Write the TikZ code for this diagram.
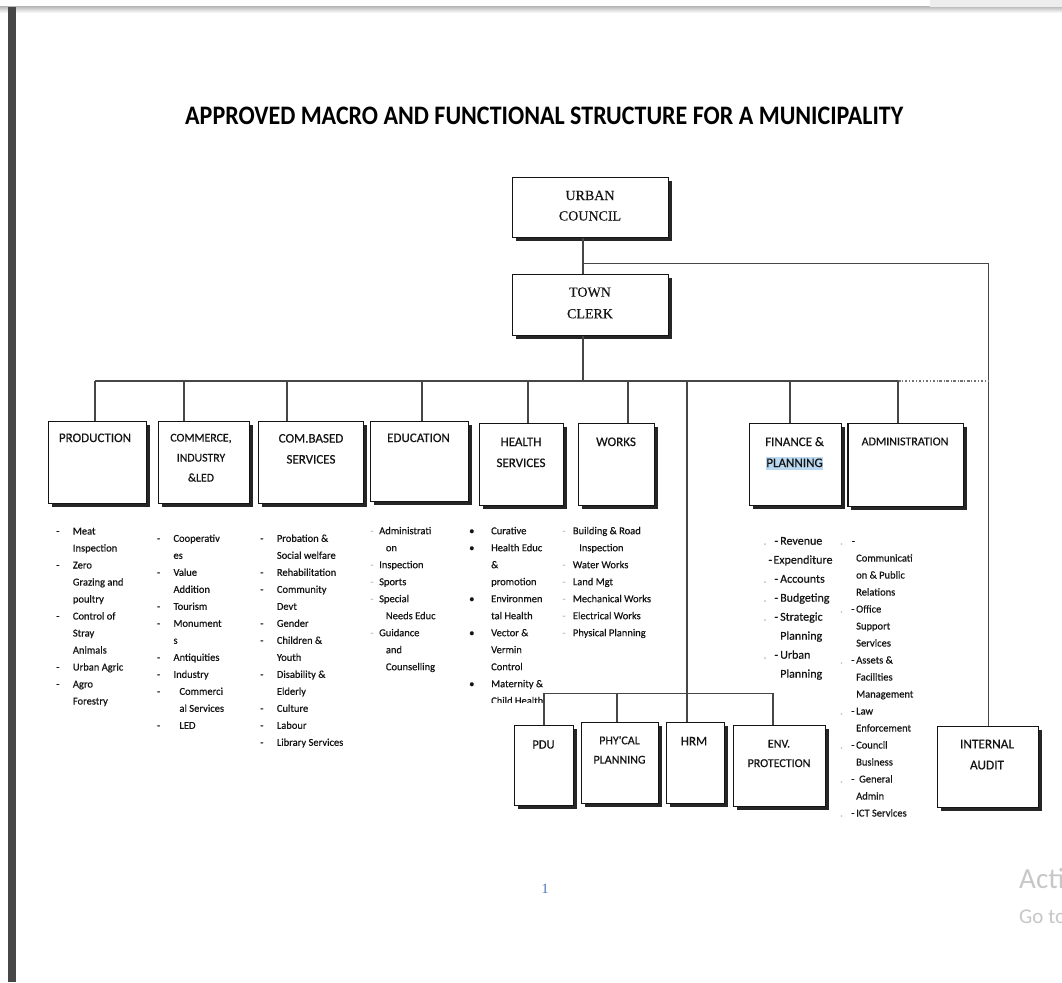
\documentclass[tikz,border=0pt]{standalone}
\usepackage{fontspec}
\usepackage{graphicx}
\setmainfont{Carlito}
\newfontfamily\heavy{Carlito}[FakeBold=0.45]
\newfontfamily\tnr{Liberation Serif}[FakeBold=0.35]
\newfontfamily\tnrplain{Liberation Serif}
\newfontfamily\wmfont{Carlito}
\usetikzlibrary{shadows}
\definecolor{ink}{RGB}{20,20,20}
\definecolor{wirec}{RGB}{70,70,70}
\definecolor{faint}{RGB}{175,185,200}
\definecolor{pgblue}{RGB}{70,110,190}
\definecolor{hl}{RGB}{186,216,240}
\newcommand{\fsz}[2]{\fontsize{#1pt}{#2pt}\selectfont}
\newcommand{\mlc}[1]{\begin{tabular}[t]{@{}c@{}}#1\end{tabular}}
\newcommand{\mll}[1]{\begin{tabular}[t]{@{}l@{}}#1\end{tabular}}
\newcommand{\itm}[3]{\makebox[#1pt][l]{#2}#3}
\newcommand{\cntl}[2]{\hspace*{#1pt}#2}
\newcommand{\fm}{{\color{faint}-}}
\newcommand{\fd}{{\color{faint}.}}
\begin{document}
\begin{tikzpicture}[x=1pt,y=-1pt,
  box/.style={draw=ink, line width=1.2pt, fill=white, inner sep=0pt, anchor=north west,
    drop shadow={shadow xshift=3.5pt, shadow yshift=-3.5pt, fill=black!85, opacity=1}},
  lbl/.style={inner sep=0pt, anchor=base, text=ink, font=\heavy\fsz{13}{21}},
  slbl/.style={inner sep=0pt, anchor=base, text=ink, font=\tnr\fsz{14}{20.5}},
  lst/.style={inner sep=0pt, anchor=base west, text=ink, font=\heavy\fsz{10.5}{17}},
  wire/.style={draw=wirec, line width=1.2pt},
  dashdotline/.style={draw=black!55, line width=1.2pt, dash pattern=on 2.5pt off 1.8pt on 0.8pt off 1.8pt}]
\useasboundingbox (0,0) rectangle (1062,982);
\fill[white] (0,0) rectangle (1062,982);
% page chrome
\shade[top color=black!25, bottom color=white] (0,7) rectangle (1062,13);
\fill[black!7] (930,0) rectangle (1062,7);
\fill[black!72] (8,7) rectangle (16,982);

% title
\node[anchor=base west, inner sep=0pt, text=black] (title) at (185,124)
  {\resizebox{718pt}{17.5pt}{\bfseries APPROVED MACRO AND FUNCTIONAL STRUCTURE FOR A MUNICIPALITY}};

% coordinates
\coordinate (cx) at (583,0);
\coordinate (bus) at (0,381);
\coordinate (ja) at (583,263.5);
\coordinate (d1) at (95,381);
\coordinate (d2) at (184,381);
\coordinate (d3) at (287,381);
\coordinate (d4) at (422,381);
\coordinate (d5) at (528,381);
\coordinate (d6) at (628,381);
\coordinate (d7) at (790,381);
\coordinate (d8) at (898,381);
\coordinate (d9) at (687,381);
\coordinate (s1) at (544,693.5);
\coordinate (s2) at (617,693.5);
\coordinate (s3) at (773,693.5);

% boxes
\node[box, minimum width=156pt, minimum height=60pt] (council) at (512,177) {};
\node[box, minimum width=156pt, minimum height=61pt] (clerk) at (512,274) {};
\node[box, minimum width=98pt, minimum height=82pt] (prod) at (48,421) {};
\node[box, minimum width=91pt, minimum height=82pt] (comm) at (158,421) {};
\node[box, minimum width=105pt, minimum height=82pt] (combased) at (258,421) {};
\node[box, minimum width=98pt, minimum height=80pt] (edu) at (370,421) {};
\node[box, minimum width=84pt, minimum height=82pt] (health) at (479,423) {};
\node[box, minimum width=76pt, minimum height=82pt] (works) at (578,423) {};
\node[box, minimum width=92pt, minimum height=82pt] (fin) at (748.5,423) {};
\node[box, minimum width=115.5pt, minimum height=83pt] (admin) at (847.3,423) {};
\node[box, minimum width=59pt, minimum height=80pt] (pdu) at (514,725) {};
\node[box, minimum width=77pt, minimum height=81pt] (phy) at (581,722) {};
\node[box, minimum width=58pt, minimum height=81pt] (hrm) at (665.5,722) {};
\node[box, minimum width=92pt, minimum height=81pt] (env) at (733,725) {};
\node[box, minimum width=101pt, minimum height=81pt] (audit) at (937,725.5) {};

% connectors
\draw[wire] (council.south -| cx) -- (clerk.north -| cx);
\draw[wire] (ja) -| (audit.north);
\draw[wire] (clerk.south -| cx) -- (cx |- bus);
\draw[wire] (d1) -- (d8);
\draw[dashdotline] (d8) -- (audit.north |- bus);
\draw[wire] (d1) -- (d1 |- prod.north);
\draw[wire] (d2) -- (d2 |- comm.north);
\draw[wire] (d3) -- (d3 |- combased.north);
\draw[wire] (d4) -- (d4 |- edu.north);
\draw[wire] (d5) -- (d5 |- health.north);
\draw[wire] (d6) -- (d6 |- works.north);
\draw[wire] (d7) -- (d7 |- fin.north);
\draw[wire] (d8) -- (d8 |- admin.north);
\draw[wire] (d9) -- (d9 |- hrm.north);
\draw[wire] (s1 |- pdu.north) -- (s1) -- (s3) -- (s3 |- env.north);
\draw[wire] (s2) -- (s2 |- phy.north);

% box labels
\node[slbl] (councilt) at (590,200) {\mlc{URBAN\\COUNCIL}};
\node[slbl, font=\tnr\fsz{14}{21.6}] (clerkt) at (590,296.7) {\mlc{TOWN\\CLERK}};
\node[lbl] (prodt) at (95,442) {\mlc{PRODUCTION}};
\node[lbl, font=\heavy\fsz{11.8}{20}] (commt) at (201,441.5) {\mlc{COMMERCE,\\INDUSTRY\\\&LED}};
\node[lbl] (combasedt) at (311,442.5) {\mlc{COM.BASED\\SERVICES}};
\node[lbl] (edut) at (418.5,442) {\mlc{EDUCATION}};
\node[lbl] (healtht) at (521,446) {\mlc{HEALTH\\SERVICES}};
\node[lbl] (workst) at (616,446) {\mlc{WORKS}};
\fill[hl] (766,456.5) rectangle (823,470);
\node[lbl] (fint) at (794.5,446) {\mlc{FINANCE \&\\PLANNING}};
\node[lbl, font=\heavy\fsz{12}{21}] (admint) at (905,445.3) {\mlc{ADMINISTRATION}};
\node[lbl, font=\heavy\fsz{12.5}{20}] (pdut) at (543.5,748.5) {\mlc{PDU}};
\node[lbl, font=\heavy\fsz{12}{19.3}] (phyt) at (619.5,744.3) {\mlc{PHY'CAL\\PLANNING}};
\node[lbl] (hrmt) at (694,745.3) {\mlc{HRM}};
\node[lbl, font=\heavy\fsz{12}{19.5}] (envt) at (779,747.5) {\mlc{ENV.\\PROTECTION}};
\node[lbl, font=\heavy\fsz{13.3}{21}] (auditt) at (987,748.3) {\mlc{INTERNAL\\AUDIT}};

% lists
\node[lst] (prodl) at (56,534.5) {\mll{%
\itm{16.7}{-}{Meat}\\ \cntl{16.7}{Inspection}\\ \itm{16.7}{-}{Zero}\\ \cntl{16.7}{Grazing and}\\
\cntl{16.7}{poultry}\\ \itm{16.7}{-}{Control of}\\ \cntl{16.7}{Stray}\\ \cntl{16.7}{Animals}\\
\itm{16.7}{-}{Urban Agric}\\ \itm{16.7}{-}{Agro}\\ \cntl{16.7}{Forestry}}};

\node[lst] (comml) at (156.7,541.8) {\mll{%
\itm{16.6}{-}{Cooperativ}\\ \cntl{16.6}{es}\\ \itm{16.6}{-}{Value}\\ \cntl{16.6}{Addition}\\
\itm{16.6}{-}{Tourism}\\ \itm{16.6}{-}{Monument}\\ \cntl{16.6}{s}\\ \itm{16.6}{-}{Antiquities}\\
\itm{16.6}{-}{Industry}\\ \itm{22.6}{-}{Commerci}\\ \cntl{22.6}{al Services}\\ \itm{22.6}{-}{LED}}};

\node[lst] (combasedl) at (260,541.8) {\mll{%
\itm{16.7}{-}{Probation \&}\\ \cntl{16.7}{Social welfare}\\ \itm{16.7}{-}{Rehabilitation}\\
\itm{16.7}{-}{Community}\\ \cntl{16.7}{Devt}\\ \itm{16.7}{-}{Gender}\\ \itm{16.7}{-}{Children \&}\\
\cntl{16.7}{Youth}\\ \itm{16.7}{-}{Disability \&}\\ \cntl{16.7}{Elderly}\\ \itm{16.7}{-}{Culture}\\
\itm{16.7}{-}{Labour}\\ \itm{16.7}{-}{Library Services}}};

\node[lst] (edul) at (370,534.2) {\mll{%
\itm{9}{\fm}{Administrati}\\ \cntl{15.7}{on}\\ \itm{9}{\fm}{Inspection}\\ \itm{9}{\fm}{Sports}\\
\itm{9}{\fm}{Special}\\ \cntl{15.7}{Needs Educ}\\ \itm{9}{\fm}{Guidance}\\ \cntl{15.7}{and}\\
\cntl{15.7}{Counselling}}};

\begin{scope}
\clip (455,515) rectangle (562,702.5);
\node[lst] (healthl) at (469,534.2) {\mll{%
\itm{22}{•}{Curative}\\ \itm{22}{•}{Health Educ}\\ \cntl{22}{\&}\\ \cntl{22}{promotion}\\
\itm{22}{•}{Environmen}\\ \cntl{22}{tal Health}\\ \itm{22}{•}{Vector \&}\\ \cntl{22}{Vermin}\\
\cntl{22}{Control}\\ \itm{22}{•}{Maternity \&}\\ \cntl{22}{Child Health}}};
\end{scope}

\node[lst] (worksl) at (562.3,534.2) {\mll{%
\itm{10.4}{\fm}{Building \& Road}\\ \cntl{16.7}{Inspection}\\ \itm{10.4}{\fm}{Water Works}\\
\itm{10.4}{\fm}{Land Mgt}\\ \itm{10.4}{\fm}{Mechanical Works}\\ \itm{10.4}{\fm}{Electrical Works}\\
\itm{10.4}{\fm}{Physical Planning}}};

\node[lst, font=\heavy\fsz{12}{19}] (finl) at (763.3,544.7) {\mll{%
\makebox[11pt][l]{\fd}\makebox[5.7pt][l]{-}Revenue\\
\hspace*{5pt}\makebox[5pt][l]{-}Expenditure\\
\makebox[11pt][l]{\fd}\makebox[5.7pt][l]{-}Accounts\\
\makebox[11pt][l]{\fd}\makebox[5.7pt][l]{-}Budgeting\\
\makebox[11pt][l]{\fd}\makebox[5.7pt][l]{-}Strategic\\
\hspace*{16.7pt}Planning\\
\makebox[11pt][l]{\fd}\makebox[5.7pt][l]{-}Urban\\
\hspace*{16.7pt}Planning}};

\node[lst] (adminl) at (840,544.5) {\mll{%
\makebox[11.5pt][l]{\fd}-\\
\hspace*{16pt}Communicati\\ \hspace*{16pt}on \& Public\\ \hspace*{16pt}Relations\\
\makebox[11pt][l]{\fd}\makebox[5pt][l]{-}Office\\ \hspace*{16pt}Support\\ \hspace*{16pt}Services\\
\makebox[11pt][l]{\fd}\makebox[5pt][l]{-}Assets \&\\ \hspace*{16pt}Facilities\\ \hspace*{16pt}Management\\
\makebox[11pt][l]{\fd}\makebox[5pt][l]{-}Law\\ \hspace*{16pt}Enforcement\\
\makebox[11pt][l]{\fd}\makebox[5pt][l]{-}Council\\ \hspace*{16pt}Business\\
\makebox[11pt][l]{\fd}\makebox[8pt][l]{-}General\\ \hspace*{16pt}Admin\\
\makebox[11pt][l]{\fd}\makebox[5pt][l]{-}ICT Services}};

% page number and watermark
\node[inner sep=0pt, anchor=base, text=pgblue, font=\tnrplain\fsz{14}{14}] (pg) at (545,893) {1};
\node[inner sep=0pt, anchor=base west, text=black!22, font=\wmfont\fsz{29}{29}] (wm1) at (1019,888.3) {Activ};
\node[inner sep=0pt, anchor=base west, text=black!22, font=\wmfont\fsz{21}{21}] (wm2) at (1019,923) {Go to};
\end{tikzpicture}
\end{document}
